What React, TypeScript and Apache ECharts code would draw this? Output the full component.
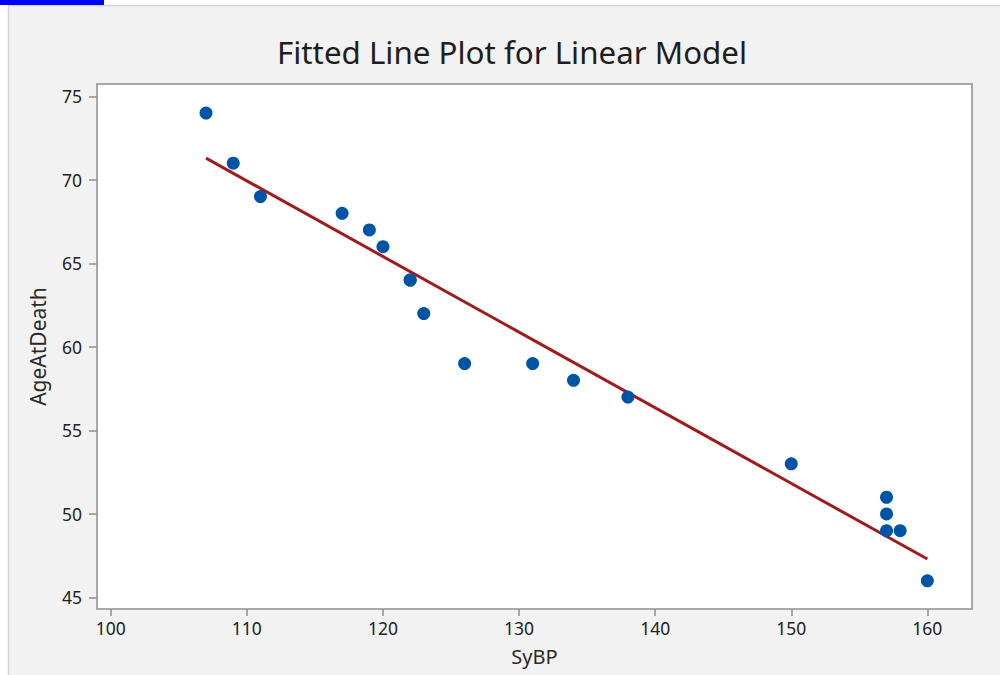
import React, { useEffect, useRef } from "react";
import * as echarts from "echarts";

const sybp = [107, 109, 111, 117, 119, 120, 122, 122, 123, 126, 131, 134, 138, 150, 157, 157, 157, 158, 160];
const ageAtDeath = [74, 71, 69, 68, 67, 66, 64, 64, 62, 59, 59, 58, 57, 53, 51, 50, 49, 49, 46];
const fitX = [107, 160];
const fitY = [71.3, 47.3];
const xTicks = [100, 110, 120, 130, 140, 150, 160];
const yTicks = [45, 50, 55, 60, 65, 70, 75];

const FONT = "'Noto Sans', 'Open Sans', sans-serif";

export default function App() {
  const ref = useRef<HTMLDivElement>(null);
  useEffect(() => {
    const chart = echarts.init(ref.current!, null, { renderer: "svg" });
    chart.setOption({
      animation: false,
      backgroundColor: "#ffffff",
      textStyle: { fontFamily: FONT },
      title: {
        text: "Fitted Line Plot for Linear Model",
        left: 272,
        top: 31,
        textStyle: { fontFamily: FONT, fontSize: 31.3, fontWeight: "normal", color: "#1e1e1e" },
      },
      graphic: [
        {
          type: "rect",
          z: -10,
          shape: { x: 8.5, y: 5.5, width: 1000, height: 700 },
          style: { fill: "#f2f2f2", stroke: "#d4d4d4", lineWidth: 1.5 },
        },
        {
          type: "rect",
          z: -9,
          shape: { x: 0, y: 0, width: 104, height: 5 },
          style: { fill: "#0000ff" },
        },
      ],
      grid: {
        left: 97,
        top: 84,
        right: 28,
        bottom: 66,
        show: true,
        backgroundColor: "#ffffff",
        borderColor: "#a8a8a8",
        borderWidth: 2,
      },
      xAxis: {
        type: "value",
        min: 98.99,
        max: 163.28,
        name: "SyBP",
        nameLocation: "middle",
        nameGap: 37,
        nameTextStyle: { fontFamily: FONT, fontSize: 20, color: "#2a2a2a" },
        axisLine: { show: false },
        axisTick: { show: true, length: 7, customValues: xTicks, lineStyle: { color: "#8c8c8c", width: 1.5 } },
        axisLabel: { customValues: xTicks, fontSize: 17.5, color: "#222", margin: 10, fontFamily: FONT },
        splitLine: { show: false },
      },
      yAxis: {
        type: "value",
        min: 44.31,
        max: 75.74,
        name: "AgeAtDeath",
        nameLocation: "middle",
        nameGap: 49,
        nameTextStyle: { fontFamily: FONT, fontSize: 21, color: "#2a2a2a" },
        axisLine: { show: false },
        axisTick: { show: true, length: 8, customValues: yTicks, lineStyle: { color: "#8c8c8c", width: 1.5 } },
        axisLabel: { customValues: yTicks, fontSize: 17.5, color: "#222", margin: 15, fontFamily: FONT },
        splitLine: { show: false },
      },
      series: [
        {
          type: "line",
          data: fitX.map((x, i) => [x, fitY[i]]),
          showSymbol: false,
          lineStyle: { color: "#a01c1c", width: 3 },
          z: 2,
        },
        {
          type: "scatter",
          data: sybp.map((x, i) => [x, ageAtDeath[i]]),
          symbol: "circle",
          symbolSize: 13,
          itemStyle: { color: "#0054a6", opacity: 1 },
          z: 3,
        },
      ],
    });
    return () => chart.dispose();
  }, []);
  return (
    <div
      ref={ref}
      style={{ position: "absolute", left: 0, top: 0, width: 1000, height: 675 }}
    />
  );
}
